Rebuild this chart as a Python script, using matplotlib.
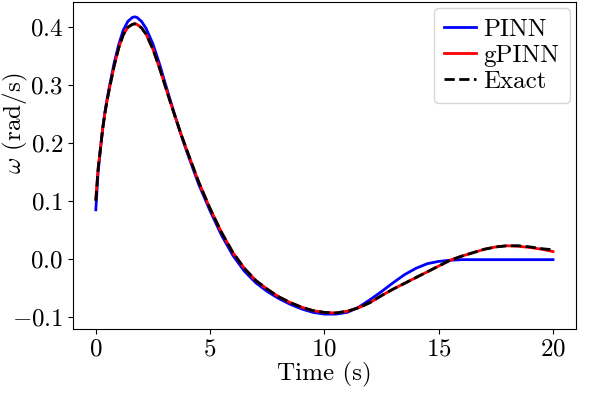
import matplotlib
matplotlib.use("Agg")
from matplotlib import pyplot as plt

plt.rcParams['font.family'] = 'serif'
plt.rcParams['font.serif'] = ['cmr10', 'DejaVu Serif']
plt.rcParams['mathtext.fontset'] = 'cm'
plt.rcParams['axes.formatter.use_mathtext'] = True
plt.rcParams['font.size'] = 18

t = [0.0, 0.1, 0.2, 0.3, 0.4, 0.5, 0.6, 0.8, 1.0, 1.2, 1.4, 1.6, 1.7, 1.8,
     2.0, 2.2, 2.5, 2.8, 3.0, 3.25, 3.5, 3.75, 4.0, 4.5, 5.0, 5.5, 6.0, 6.5,
     7.0, 7.5, 8.0, 8.5, 9.0, 9.5, 10.0, 10.5, 11.0, 11.5, 12.0, 12.5, 13.0,
     13.5, 14.0, 14.5, 15.0, 15.5, 16.0, 16.5, 17.0, 17.5, 18.0, 18.5, 19.0,
     19.5, 20.0]

exact = [0.100, 0.155, 0.190, 0.225, 0.252, 0.275, 0.295, 0.333, 0.364, 0.387,
         0.400, 0.405, 0.406, 0.405, 0.399, 0.388, 0.362, 0.328, 0.303, 0.272,
         0.242, 0.213, 0.186, 0.133, 0.087, 0.046, 0.011, -0.016, -0.037,
         -0.052, -0.065, -0.075, -0.083, -0.089, -0.092, -0.093, -0.090,
         -0.084, -0.075, -0.063, -0.052, -0.042, -0.032, -0.022, -0.012,
         -0.002, 0.005, 0.011, 0.017, 0.021, 0.023, 0.023, 0.021, 0.018, 0.016]

gpinn = [0.104, 0.156, 0.190, 0.225, 0.252, 0.275, 0.295, 0.333, 0.364, 0.387,
         0.400, 0.405, 0.406, 0.405, 0.399, 0.388, 0.362, 0.328, 0.303, 0.272,
         0.242, 0.213, 0.186, 0.133, 0.087, 0.046, 0.011, -0.016, -0.037,
         -0.052, -0.065, -0.075, -0.083, -0.089, -0.092, -0.093, -0.090,
         -0.084, -0.075, -0.063, -0.052, -0.042, -0.032, -0.022, -0.012,
         -0.002, 0.005, 0.011, 0.017, 0.021, 0.023, 0.022, 0.020, 0.017, 0.013]

pinn = [0.085, 0.150, 0.188, 0.225, 0.254, 0.278, 0.299, 0.338, 0.370, 0.395,
        0.410, 0.417, 0.418, 0.417, 0.410, 0.398, 0.371, 0.335, 0.308, 0.275,
        0.243, 0.212, 0.183, 0.129, 0.083, 0.041, 0.006, -0.021, -0.041,
        -0.056, -0.068, -0.078, -0.086, -0.092, -0.095, -0.095, -0.092,
        -0.083, -0.070, -0.056, -0.041, -0.027, -0.016, -0.008, -0.004,
        -0.002, -0.001, -0.001, -0.001, -0.001, -0.001, -0.001, -0.001,
        -0.001, -0.001]

fig = plt.figure(figsize=(5.98, 3.94), dpi=100)
ax = fig.add_axes([0.122, 0.165, 0.841, 0.83])
ax.plot(t, pinn, color='blue', lw=2, label='PINN')
ax.plot(t, gpinn, color='red', lw=2, label='gPINN')
ax.plot(t, exact, color='black', lw=2, ls='--', label='Exact')
ax.set_xlabel('Time (s)', labelpad=1)
ax.set_ylabel(r'$\omega$ (rad/s)')
ax.yaxis.set_label_coords(-0.086, 0.63)
ax.set_xticks([0, 5, 10, 15, 20])
ax.set_yticks([-0.1, 0.0, 0.1, 0.2, 0.3, 0.4])
ax.legend(loc='upper right', handlelength=1.3, borderpad=0.4,
          labelspacing=0.15, handletextpad=0.3, borderaxespad=0.25)
fig.savefig('out.png', dpi=100)
